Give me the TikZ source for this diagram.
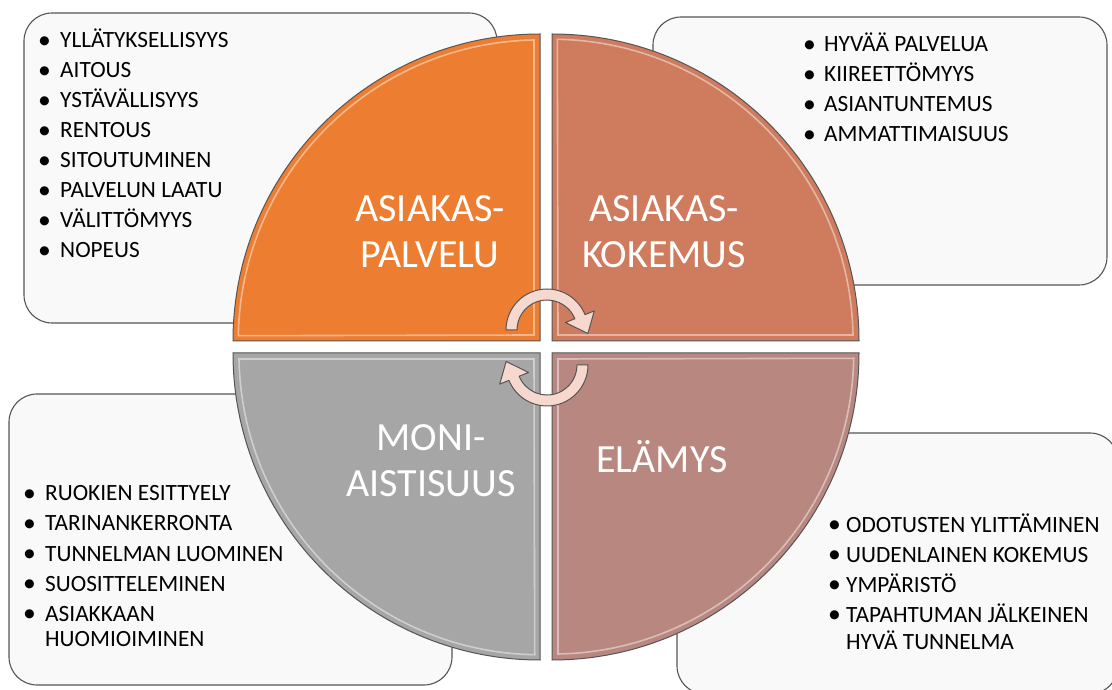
\documentclass[tikz,border=0pt]{standalone}
\usepackage{fontspec}
\usepackage{graphicx}
\setmainfont{Carlito}
\usetikzlibrary{calc}

\definecolor{aspal}{RGB}{237,125,49}
\definecolor{askok}{RGB}{207,123,93}
\definecolor{moni}{RGB}{166,166,166}
\definecolor{elam}{RGB}{184,136,128}
\definecolor{boxfill}{RGB}{249,249,249}
\definecolor{edge}{RGB}{85,85,85}
\definecolor{arrowpink}{RGB}{246,216,206}

\newcommand{\bigdot}{\hspace{-3pt}\raisebox{-0.5pt}{\scalebox{1.1}{\textbullet}}}

\tikzset{
  infobox/.style={draw=edge,fill=boxfill,line width=1.1pt,rounded corners=28pt},
  quad/.style={draw=edge,line width=1pt},
  shine/.style={draw=white,opacity=.45,line width=1.6pt},
  quadlabel/.style={text=white,font=\fontsize{40}{46}\selectfont,align=center},
  listitem/.style={anchor=base west,inner sep=0pt,font=\fontsize{23.3}{27}\selectfont},
  cyc/.style={draw=edge,fill=arrowpink,line width=1pt,line join=round}
}

\begin{document}
\begin{tikzpicture}[x=1pt,y=1pt]
\useasboundingbox (0,0) rectangle (1112,689);
% boxes behind the circle
\draw[infobox] (24,366) rectangle (497,676);
\draw[infobox] (653,404) rectangle (1107,672);
\draw[infobox] (9,4) rectangle (452,295);
\draw[infobox] (677,-5) rectangle (1118,256);

% four quarters
\foreach \cx/\cy/\rot/\col in {552/348/0/askok,540/348/90/aspal,540/336/180/moni,552/336/270/elam}{
  \begin{scope}[shift={(\cx,\cy)},rotate=\rot]
  \draw[quad,fill=\col] (0,0) -- (307,0) arc[start angle=0,end angle=90,radius=307] -- cycle;
  \draw[shine] (6,6) -- (301,6) arc[start angle=1,end angle=89,radius=301] -- cycle;
  \end{scope}
}

% cycle arrows
\draw[cyc,shift={(547,359)}] (180:41) arc[start angle=180,end angle=22,radius=41] -- (22:51) -- (-5:41) -- (22:20) -- (22:30) arc[start angle=22,end angle=180,radius=30] -- cycle;
\draw[cyc,shift={(547,324)},rotate=180] (180:41) arc[start angle=180,end angle=22,radius=41] -- (22:51) -- (-5:41) -- (22:20) -- (22:30) arc[start angle=22,end angle=180,radius=30] -- cycle;

\node[quadlabel] (lblpal) at (430,457) {ASIAKAS-\\PALVELU};
\node[quadlabel] (lblkok) at (664,457) {ASIAKAS-\\KOKEMUS};
\node[quadlabel] (lblmoni) at (431,228) {MONI-\\AISTISUUS};
\node[quadlabel,anchor=base] (lblelam) at (662,216) {ELÄMYS};

% lists
\foreach \t [count=\i] in {YLLÄTYKSELLISYYS,AITOUS,YSTÄVÄLLISYYS,RENTOUS,SITOUTUMINEN,PALVELUN LAATU,VÄLITTÖMYYS,NOPEUS}
  \node[listitem] (pal\i) at (41,{671-30*\i}) {\makebox[19pt][l]{\bigdot}\t};
\foreach \t [count=\i] in {HYVÄÄ PALVELUA,KIIREETTÖMYYS,ASIANTUNTEMUS,AMMATTIMAISUUS}
  \node[listitem] (kok\i) at (806,{667-30*\i}) {\makebox[18pt][l]{\bigdot}\t};
\foreach \t [count=\i] in {RUOKIEN ESITTYELY,TARINANKERRONTA,TUNNELMAN LUOMINEN,SUOSITTELEMINEN,ASIAKKAAN}
  \node[listitem] (moni\i) at (26,{218-30*\i}) {\makebox[19pt][l]{\bigdot}\t};
\node[listitem] (moni6) at ([yshift=-25pt]moni5.base west) {\hspace{19pt}HUOMIOIMINEN};
\foreach \t [count=\i] in {ODOTUSTEN YLITTÄMINEN,UUDENLAINEN KOKEMUS,YMPÄRISTÖ,TAPAHTUMAN JÄLKEINEN}
  \node[listitem] (elam\i) at (831,{187-30*\i}) {\makebox[15pt][l]{\bigdot}\t};
\node[listitem] (elam5) at ([yshift=-27pt]elam4.base west) {\hspace{15pt}HYVÄ TUNNELMA};
\end{tikzpicture}
\end{document}
